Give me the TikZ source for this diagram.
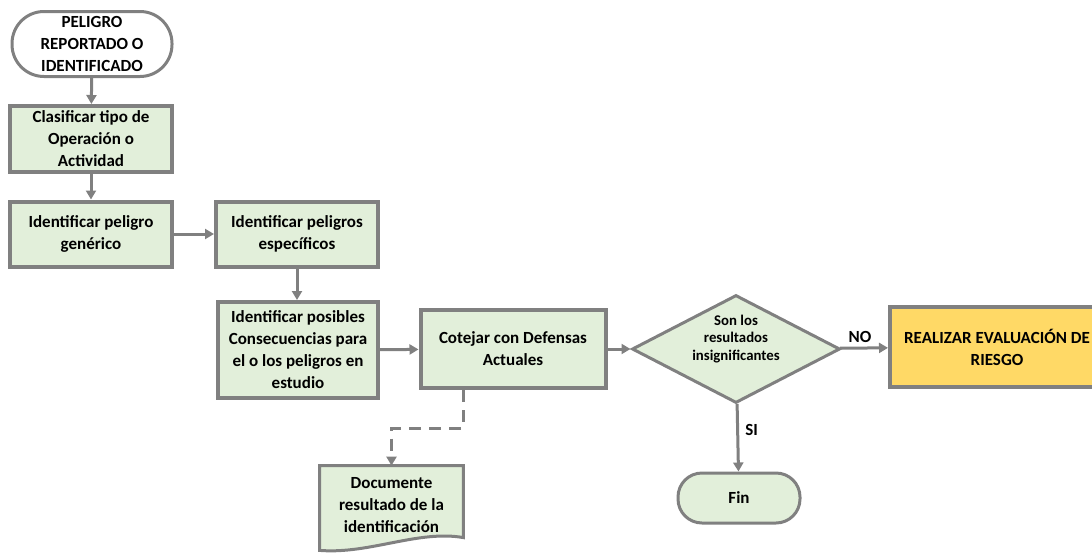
\documentclass[tikz,border=0pt]{standalone}
\usepackage{fontspec}
\setmainfont{Carlito}
\usetikzlibrary{shapes.geometric,arrows.meta}

\definecolor{boxedge}{RGB}{128,128,128}
\definecolor{boxfill}{RGB}{226,239,218}
\definecolor{alertfill}{RGB}{255,217,102}
\def\boxfont{\fontsize{8.5}{11}\selectfont\bfseries}
\def\smallfont{\fontsize{7.4}{8.7}\selectfont\bfseries}
\tikzset{
  terminal/.style={draw=boxedge, line width=1.5pt, rounded corners=16pt, align=center, font=\boxfont, inner sep=0pt},
  process/.style={draw=boxedge, fill=boxfill, line width=2pt, align=center, font=\boxfont, inner sep=0pt},
  decision/.style={diamond, draw=boxedge, fill=boxfill, line width=1.5pt, inner sep=0pt, minimum width=104pt, minimum height=54pt},
  alertbox/.style={process, fill=alertfill},
  docbox/.style={align=center, font=\boxfont, inner sep=0pt, minimum width=71.5pt, minimum height=41pt},
  docedge/.style={draw=boxedge, fill=boxfill, line width=1.5pt},
  flow/.style={draw=boxedge, line width=1.5pt, -{Triangle[length=4.5pt,width=5pt]}},
  dashflow/.style={flow, dash pattern=on 6pt off 4pt},
  answer/.style={font=\boxfont, inner sep=2pt}
}

\begin{document}
\begin{tikzpicture}[x=0.5pt, y=-0.5pt]
  \useasboundingbox (0,0) rectangle (1092,552);

  % left column
  \node[terminal, minimum width=80pt, minimum height=32.5pt] (start) at (92,44)
    {PELIGRO\\REPORTADO O\\IDENTIFICADO};
  \node[process, minimum width=81pt, minimum height=33pt] (clasif) at (91,139)
    {Clasificar tipo de\\Operación o\\Actividad};
  \node[process, minimum width=81pt, minimum height=32.5pt] (generico) at (91,234)
    {Identificar peligro\\genérico};
  \node[process, minimum width=81pt, minimum height=32.5pt] (especif) at (297,234)
    {Identificar peligros\\específicos};
  \node[process, minimum width=80pt, minimum height=48pt] (posibles) at (298,350)
    {Identificar posibles\\Consecuencias para\\el o los peligros en\\estudio};
  \node[process, minimum width=92.5pt, minimum height=39pt] (cotejar) at (513,349)
    {Cotejar con Defensas\\Actuales};

  % decision
  \node[decision] (pregunta) at (736,349) {};
  \node[font=\smallfont, align=center, inner sep=0pt] (preguntatxt) at (736,339)
    {Son los\\resultados\\insignificantes};
  \node[alertbox, minimum width=107pt, minimum height=40pt] (evaluar) at (997,347)
    {REALIZAR EVALUACIÓN DE\\RIESGO};
  \node[terminal, fill=boxfill, rounded corners=12pt, minimum width=61pt, minimum height=25pt] (fin) at (739,498)
    {Fin};

  % document
  \node[docbox] (doc) at (391.5,507) {};
  \filldraw[docedge] (doc.north west) -- (doc.north east) -- ++(0,72)
    .. controls +(-45,-8) and +(50,4) .. ([yshift=-1pt]doc.south west) -- cycle;
  \node[docbox, anchor=north] (doctext) at (391.5,464)
    {Documente\\resultado de la\\identificación};

  \draw[flow] (start) -- (clasif);
  \draw[flow] (clasif) -- (generico);
  \draw[flow] (generico) -- (especif);
  \draw[flow] (especif) -- (especif |- posibles.north);
  \draw[flow] (posibles) -- (cotejar);
  \draw[flow] (cotejar) -- (pregunta);
  \draw[flow] (pregunta) -- node[answer, above, xshift=-2pt] {NO} (evaluar);
  \draw[flow] (pregunta) -- node[answer, right, xshift=1pt, yshift=4pt] {SI} (fin);

  \coordinate (codo) at (463,428);
  \draw[dashflow] (cotejar.south -| codo) -- (codo) -| (doc.north);
\end{tikzpicture}
\end{document}
